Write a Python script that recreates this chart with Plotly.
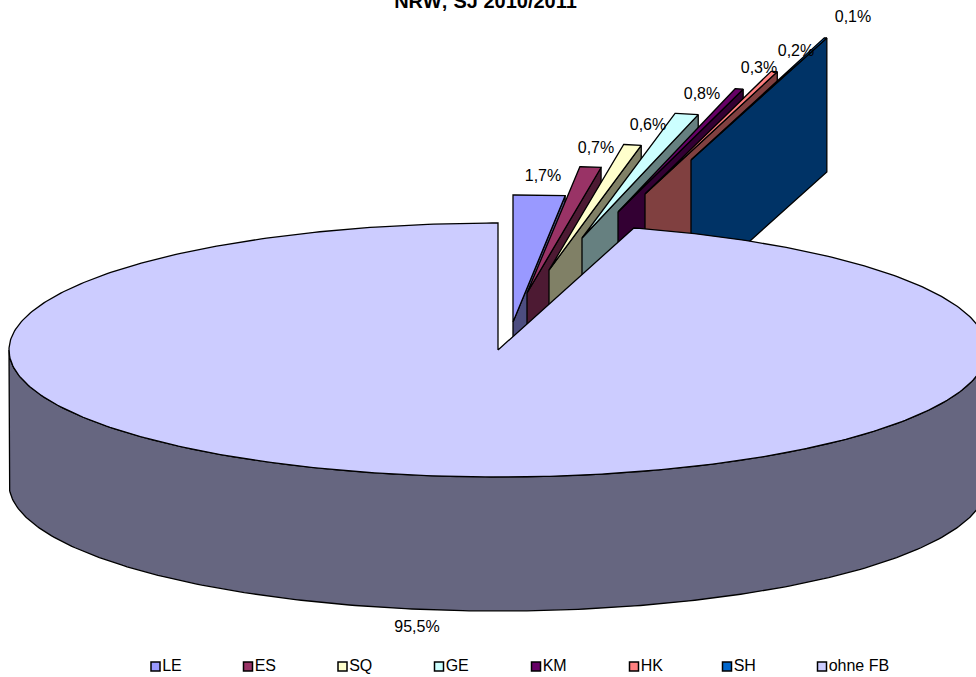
import numpy as np
import plotly.graph_objects as go

# ---- data ----
categories = ["LE", "ES", "SQ", "GE", "KM", "HK", "SH", "ohne FB"]
values = [1.70, 0.72, 0.60, 0.80, 0.30, 0.24, 0.12, 95.52]
value_labels = ["1,7%", "0,7%", "0,6%", "0,8%", "0,3%", "0,2%", "0,1%", "95,5%"]

# ---- styles ----
top_colors = ["#9999FF", "#993366", "#FFFFCC", "#CCFFFF", "#660066", "#FF8080", "#0066CC", "#CCCCFF"]
side_colors = ["#4D4D80", "#4D1A33", "#808066", "#668080", "#330033", "#804040", "#003366", "#666680"]

# ---- layout of the 3-D pie (pixels of the 976x677 canvas) ----
W, H = 976, 677
CX, CY = 498, 350
RX, RY = 489, 127
DEPTH = 134
slice_shift_x = [15, 29, 51, 84, 120, 147, 193, 0]
slice_shift_y = [-28, -57, -80, -112, -138, -156, -190, 0]
label_x = [543, 596, 648, 702, 759, 796, 853, 417]
label_y = [177, 149, 126, 95, 69, 52, 18, 628]
legend_x = [155.5, 248, 342.5, 439, 536, 634, 727, 822]
legend_y = 666.5


def rim(deg, cx, cy):
    """Point(s) on the pie's elliptical rim; angle clockwise from 12 o'clock."""
    a = np.radians(deg)
    return cx + RX * np.sin(a), cy - RY * np.cos(a)


fig = go.Figure()


def poly(xs, ys, fill, name):
    fig.add_trace(go.Scatter(
        x=list(xs) + [xs[0]], y=list(ys) + [ys[0]],
        mode="lines", fill="toself", fillcolor=fill,
        line=dict(color="#000000", width=1.3),
        name=name, showlegend=False, hoverinfo="name",
    ))


total = sum(values)
edges = np.concatenate([[0.0], np.cumsum(values) / total * 360.0])

# Small exploded slices, painted back over front in series order
for i in range(len(categories) - 1):
    cx, cy = CX + slice_shift_x[i], CY + slice_shift_y[i]
    a0, a1 = edges[i], edges[i + 1]
    ax, ay = rim(np.linspace(a0, a1, 30), cx, cy)
    poly([cx, ax[-1], ax[-1], cx], [cy, ay[-1], ay[-1] + DEPTH, cy + DEPTH],
         side_colors[i], categories[i])
    poly([cx] + list(ax), [cy] + list(ay), top_colors[i], categories[i])

# The big slice: outer wall, then top face
m = len(categories) - 1
wx, wy = rim(np.linspace(90, 270, 240), CX, CY)
poly(list(wx) + list(wx[::-1]), list(wy) + list(wy[::-1] + DEPTH), side_colors[m], categories[m])
ax, ay = rim(np.linspace(edges[m], edges[m + 1], 500), CX, CY)
poly([CX] + list(ax), [CY] + list(ay), top_colors[m], categories[m])

# Value labels
fig.add_trace(go.Scatter(
    x=label_x, y=label_y, text=value_labels, mode="text", textposition="middle center",
    textfont=dict(family="Liberation Sans, Arial, sans-serif", size=16, color="#000000"),
    showlegend=False, hoverinfo="skip", cliponaxis=False,
))

# Legend row
for i, cat in enumerate(categories):
    fig.add_trace(go.Scatter(
        x=[legend_x[i]], y=[legend_y], text=[cat], mode="markers+text",
        textposition="middle right",
        marker=dict(symbol="square", size=9, color=top_colors[i], line=dict(color="#000000", width=1.5)),
        textfont=dict(family="Liberation Sans, Arial, sans-serif", size=16, color="#000000"),
        showlegend=False, hoverinfo="skip",
    ))

fig.update_layout(
    width=W, height=H,
    margin=dict(l=0, r=0, t=0, b=0),
    paper_bgcolor="#FFFFFF", plot_bgcolor="#FFFFFF",
    xaxis=dict(range=[0, W], visible=False, fixedrange=True),
    yaxis=dict(range=[H, 0], visible=False, fixedrange=True),
    showlegend=False,
    title=dict(
        text="<b>NRW; SJ 2010/2011</b>",
        font=dict(family="Liberation Sans, Arial, sans-serif", size=20, color="#000000"),
        x=485.5 / W, xanchor="center", xref="paper",
        y=1 - 8 / H, yanchor="bottom", yref="container",
    ),
)

fig.write_html("out.html", config={"displayModeBar": False},
               post_script="document.body.style.margin='0';document.body.style.overflow='hidden';")
